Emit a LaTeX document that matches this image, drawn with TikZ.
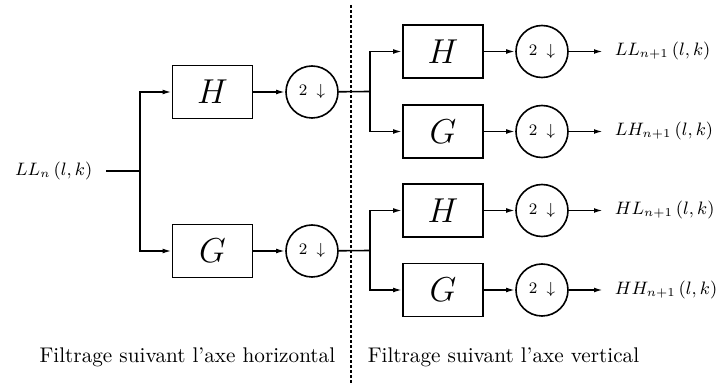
\documentclass[tikz,border=0pt]{standalone}
\usepackage{amsmath,amssymb}
\usepackage{tikz}
\usetikzlibrary{arrows.meta,positioning}

\begin{document}
\begin{tikzpicture}[x=0.5pt,y=-0.5pt,
  line width=0.8pt,
  filt/.style={draw,minimum width=40pt,minimum height=26.5pt,inner sep=0pt,font=\LARGE},
  deci/.style={draw,circle,minimum size=26pt,inner sep=0pt,font=\footnotesize},
  lbl/.style={font=\small,inner sep=0pt},
  captxt/.style={font=\fontsize{10.6}{12}\selectfont,inner sep=0pt},
  arr/.style={-{Latex[length=4.5pt,width=2.4pt]}}]
\useasboundingbox (0,0) rectangle (725,385);

% first stage (horizontal)
\node[lbl,anchor=east] (in) at (93,171) {$LL_n\,(l,k)$};
\coordinate (s1) at (140,171);
\coordinate (s0) at (106,171);
\node[filt] (H1) at (212.5,92) {$H$};
\node[filt] (G1) at (212.5,251) {$G$};
\node[deci] (D1) at (312,92) {$2\;\downarrow$};
\node[deci] (D2) at (312,251) {$2\;\downarrow$};
\draw (s0) -- (s1);
\draw[arr] (s1) |- (H1);
\draw[arr] (s1) |- (G1);
\draw[arr] (H1) -- (D1);
\draw[arr] (G1) -- (D2);

% second stage (vertical)
\coordinate (s2) at (370,91.5);
\coordinate (s3) at (370,250.5);
\draw (D1) -- (s2);
\draw (D2) -- (s3);
\foreach \nm/\f/\y/\src/\out in {a/H/51.5/s2/LL,b/G/131.5/s2/LH,c/H/210.5/s3/HL,d/G/290/s3/HH}{
  \node[filt] (F\nm) at (443,\y) {$\f$};
  \node[deci] (E\nm) at (542,\y) {$2\;\downarrow$};
  \coordinate (o\nm) at (603,\y);
  \node[lbl,anchor=west] (L\nm) at (614,\y) {$\out_{n+1}\,(l,k)$};
  \draw[arr] (\src) |- (F\nm);
  \draw[arr] (F\nm) -- (E\nm);
  \draw[arr] (E\nm) -- (o\nm);
}

% separation
\coordinate (sepT) at (351,5);
\coordinate (sepB) at (351,385);
\draw[line width=1pt,dash pattern=on 1.6pt off 0.9pt] (sepT) -- (sepB);
\node[captxt,anchor=east] (t1) at (336,357) {Filtrage suivant l'axe horizontal};
\node[captxt,anchor=west] (t2) at (367,357) {Filtrage suivant l'axe vertical};
\end{tikzpicture}
\end{document}
